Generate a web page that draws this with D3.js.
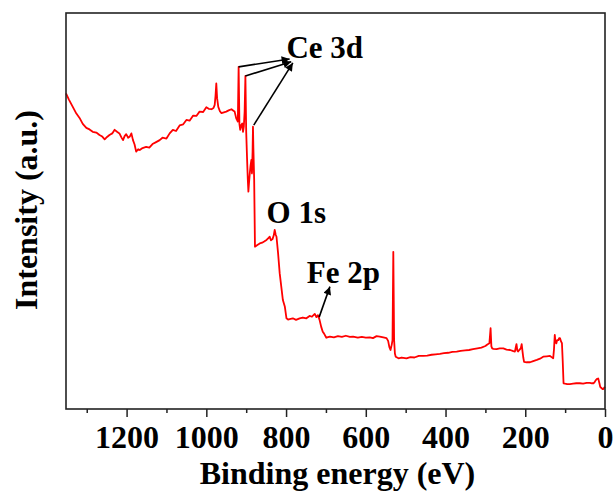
<!DOCTYPE html>
<html>
<head>
<meta charset="utf-8">
<script src="https://cdn.jsdelivr.net/npm/d3@7"></script>
<style>
body { margin: 0; background: #fff; }
svg text { font-family: "Liberation Serif", "Times New Roman", serif; font-weight: bold; fill: #000; }
</style>
</head>
<body>
<svg class="chart"></svg>
<script>
// XPS survey spectrum, binding energy (eV) vs intensity (a.u.)
var energy = [1352, 1345, 1335, 1326, 1318, 1310, 1301, 1293, 1285, 1276, 1268, 1261, 1255, 1249, 1243, 1236, 1230, 1224, 1218, 1213,
  1209, 1205, 1201, 1196, 1192, 1188, 1184, 1180, 1176, 1171, 1167, 1160, 1151, 1143, 1135, 1126, 1117, 1110, 1100, 1092,
  1084, 1076, 1067, 1058, 1050, 1042, 1033, 1025, 1017, 1008, 1000, 994, 987, 982, 979, 977, 975, 973, 970, 966,
  962, 956, 950, 944, 937, 932, 929, 925, 921, 919, 917, 915, 912, 910, 908, 906, 904, 902, 900, 898,
  896, 894.5, 893, 891, 889, 887, 885.5, 884, 883, 882, 880, 878, 872, 866, 860, 855, 849, 845, 841, 838,
  834, 831, 828.5, 826, 824, 820, 816, 812, 808, 803, 799, 795, 791, 783, 775, 766, 758, 749, 741, 735,
  728, 724, 720, 716, 712, 708, 705, 699, 690, 680, 670, 660, 650, 640, 632, 620, 610, 600, 590, 582,
  573, 565, 556, 548, 544, 541, 538, 535, 533, 531, 529, 527, 525, 518, 510, 498, 488, 478, 467, 456,
  446, 435, 425, 414, 404, 393, 383, 372, 362, 351, 341, 331, 320, 310, 300, 295, 290, 287, 285, 283,
  280, 272, 264, 255, 247, 238, 230, 226, 224, 222, 220, 218, 215, 213, 211, 209, 207, 205, 203, 197,
  188, 180, 171, 163, 155, 146, 138, 134, 130, 128, 126, 124, 122, 120, 117, 115, 113, 110, 108, 106,
  104, 100, 95, 88, 80, 72, 63, 55, 46, 38, 33, 29, 26, 23, 20, 17, 14, 12, 9, 6,
  4, 2, 0];
var intensity = [79.7, 78.2, 76.3, 74.6, 73.5, 72.0, 71.0, 70.6, 70.0, 69.8, 69.2, 68.8, 68.1, 68.7, 69.2, 69.6, 70.5, 70.0, 69.6, 68.6,
  67.9, 68.9, 69.4, 68.5, 68.8, 69.6, 67.9, 66.8, 65.0, 65.6, 65.4, 65.9, 66.2, 66.0, 66.9, 67.4, 67.9, 68.5, 68.3, 69.6,
  70.5, 70.2, 71.6, 71.9, 73.0, 72.8, 74.1, 74.0, 75.1, 75.0, 76.2, 75.8, 75.7, 76.0, 76.8, 79.0, 82.2, 78.5, 76.3, 75.2,
  74.7, 74.9, 75.1, 75.4, 75.7, 75.3, 75.1, 73.4, 72.6, 86.4, 72.0, 70.5, 71.8, 72.1, 70.0, 71.3, 75.0, 84.1, 70.0, 63.7,
  58.0, 54.9, 57.0, 59.5, 61.5, 62.9, 59.5, 65.0, 71.3, 66.0, 57.8, 41.0, 41.4, 41.8, 42.0, 42.3, 42.7, 43.1, 43.5, 42.6,
  42.9, 43.8, 45.2, 44.0, 43.5, 39.3, 34.3, 30.9, 27.5, 25.8, 22.9, 22.6, 22.7, 22.9, 22.5, 22.9, 23.1, 22.9, 23.5, 23.3,
  24.0, 23.2, 23.7, 22.5, 20.8, 19.5, 19.1, 18.0, 18.3, 18.1, 18.4, 18.2, 18.5, 18.2, 18.3, 18.0, 18.2, 18.0, 18.1, 17.9,
  18.4, 18.3, 18.1, 17.9, 17.2, 15.7, 14.9, 16.2, 17.4, 39.7, 17.4, 14.0, 13.2, 12.8, 13.0, 12.8, 13.1, 13.0, 13.4, 13.4,
  13.5, 13.7, 13.8, 13.9, 14.1, 14.2, 14.4, 14.5, 14.7, 14.8, 14.9, 15.1, 15.3, 15.5, 15.9, 16.3, 16.6, 20.4, 15.8, 15.3,
  15.2, 15.1, 15.3, 15.3, 15.0, 14.9, 14.6, 14.5, 15.5, 16.4, 14.8, 14.5, 14.9, 15.1, 15.4, 16.4, 14.6, 13.0, 11.9, 11.8,
  11.8, 12.1, 12.4, 12.7, 13.2, 13.3, 13.4, 13.1, 12.8, 15.0, 18.7, 16.8, 16.6, 17.4, 17.4, 17.9, 17.9, 17.0, 16.6, 12.0,
  6.5, 6.4, 6.3, 6.3, 6.4, 6.5, 6.5, 6.4, 6.6, 6.6, 6.5, 6.5, 6.8, 7.3, 7.6, 7.7, 6.5, 5.6, 5.3, 5.0,
  5.0, 5.4, 5.6];

var majorTicks = [1200, 1000, 800, 600, 400, 200, 0];
var minorTicks = [1300, 1100, 900, 700, 500, 300, 100];

// peak labels and their arrows
var labelText = ["Ce 3d", "O 1s", "Fe 2p"];
var labelEnergy = [799, 849, 748];
var labelIntensity = [88.6, 47.0, 31.8];
var arrowFromEnergy = [919, 902, 881, 717];
var arrowFromIntensity = [86.4, 84.1, 71.7, 23.2];
var arrowToEnergy = [791, 787, 783, 690];
var arrowToIntensity = [88.4, 87.7, 87.4, 30.9];

var margin = {top: 13, right: 9, bottom: 85, left: 66},
  width = 614 - margin.left - margin.right,
  height = 494 - margin.top - margin.bottom;

var chart = d3.select('.chart')
  .attr('width', width + margin.left + margin.right)
  .attr('height', height + margin.top + margin.bottom);

var g = chart.append('g')
  .attr('transform', 'translate(' + margin.left + ',' + margin.top + ')');

var x = d3.scaleLinear().domain([1352, 0]).range([0, width]),
  y = d3.scaleLinear().domain([0, 100]).range([height, 0]);

var data = energy.map(function(e, i) { return {e: e, v: intensity[i]}; });

// arrow head
chart.append('defs').append('marker')
  .attr('id', 'head')
  .attr('markerUnits', 'userSpaceOnUse')
  .attr('viewBox', '0 0 10 10')
  .attr('refX', 10).attr('refY', 5)
  .attr('markerWidth', 12).attr('markerHeight', 8)
  .attr('orient', 'auto')
  .append('path')
  .attr('d', 'M0,0 L10,5 L0,10 Z')
  .attr('fill', '#000');

// spectrum
var line = d3.line()
  .x(function(d) { return x(d.e); })
  .y(function(d) { return y(d.v); });

g.append('path')
  .datum(data)
  .attr('fill', 'none')
  .attr('stroke', '#f00')
  .attr('stroke-width', 1.8)
  .attr('stroke-linejoin', 'round')
  .attr('d', line);

// bottom axis: labelled major ticks + minor ticks
var xAxis = g.append('g')
  .attr('transform', 'translate(0,' + height + ')')
  .call(d3.axisBottom(x).tickValues(majorTicks).tickSize(8).tickFormat(d3.format('d')));
xAxis.select('.domain').remove();
xAxis.selectAll('.tick line').attr('stroke', '#222').attr('stroke-width', 1.5);
xAxis.selectAll('.tick text')
  .attr('y', 39).attr('dy', null)
  .style('font-size', '32px')
  .attr('font-family', null);

var xMinor = g.append('g')
  .attr('transform', 'translate(0,' + height + ')')
  .call(d3.axisBottom(x).tickValues(minorTicks).tickSize(4).tickFormat(''));
xMinor.select('.domain').remove();
xMinor.selectAll('.tick line').attr('stroke', '#222').attr('stroke-width', 1.5);

// frame
g.append('rect')
  .attr('width', width)
  .attr('height', height)
  .attr('fill', 'none')
  .attr('stroke', '#222')
  .attr('stroke-width', 1.6);

// arrows
g.selectAll('.arrow')
  .data(arrowFromEnergy)
  .enter().append('line')
  .attr('class', 'arrow')
  .attr('x1', function(d) { return x(d); })
  .attr('y1', function(d, i) { return y(arrowFromIntensity[i]); })
  .attr('x2', function(d, i) { return x(arrowToEnergy[i]); })
  .attr('y2', function(d, i) { return y(arrowToIntensity[i]); })
  .attr('stroke', '#000')
  .attr('stroke-width', 1.6)
  .attr('marker-end', 'url(#head)');

// peak labels
g.selectAll('.peak')
  .data(labelText)
  .enter().append('text')
  .attr('class', 'peak')
  .attr('x', function(d, i) { return x(labelEnergy[i]); })
  .attr('y', function(d, i) { return y(labelIntensity[i]); })
  .style('font-size', '31px')
  .text(function(d) { return d; });

// axis titles
chart.append('text')
  .attr('x', margin.left + width / 2 + 2)
  .attr('y', 484)
  .attr('text-anchor', 'middle')
  .style('font-size', '32px')
  .text('Binding energy (eV)');

chart.append('text')
  .attr('transform', 'translate(37,' + (margin.top + height / 2 - 1) + ') rotate(-90)')
  .attr('text-anchor', 'middle')
  .style('font-size', '32px')
  .text('Intensity (a.u.)');
</script>
</body>
</html>
